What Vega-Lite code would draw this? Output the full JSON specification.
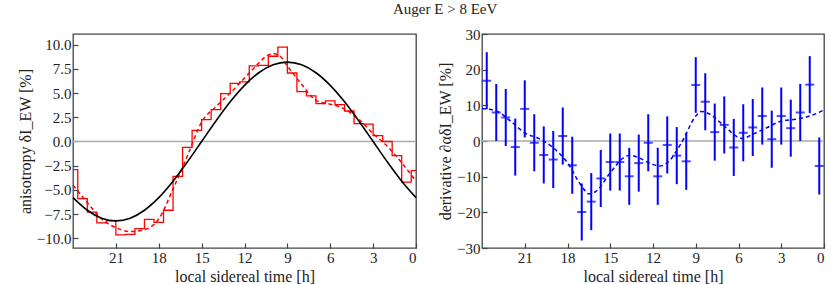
{
  "$schema": "https://vega.github.io/schema/vega-lite/v6.json",
  "padding": {"left": 16, "top": 2, "right": 2, "bottom": 0},
  "title": {"text": "Auger E > 8 EeV", "font": "Liberation Serif", "fontSize": 15, "fontWeight": "normal", "color": "#222", "anchor": "middle", "offset": 9, "dx": 23},
  "bounds": "flush",
  "spacing": 66,
  "datasets": {
    "step": [
      {"t": 0, "v": -3.0}, {"t": 0.333, "v": -4.2}, {"t": 1, "v": -1.45}, {"t": 1.667, "v": 0.0},
      {"t": 2.333, "v": 0.6}, {"t": 3, "v": 1.8}, {"t": 3.667, "v": 1.85}, {"t": 4.333, "v": 3.15},
      {"t": 5, "v": 3.8}, {"t": 5.667, "v": 4.2}, {"t": 6.333, "v": 3.9}, {"t": 7, "v": 4.7},
      {"t": 7.667, "v": 5.15}, {"t": 8.333, "v": 7.07}, {"t": 9, "v": 9.75}, {"t": 9.667, "v": 8.8},
      {"t": 10.333, "v": 7.85}, {"t": 11, "v": 7.8}, {"t": 11.667, "v": 6.15}, {"t": 12.333, "v": 6.0},
      {"t": 13, "v": 4.95}, {"t": 13.667, "v": 3.28}, {"t": 14.333, "v": 2.25}, {"t": 15, "v": 1.15},
      {"t": 15.667, "v": -0.6}, {"t": 16.333, "v": -3.6}, {"t": 17, "v": -7.1}, {"t": 17.667, "v": -8.35},
      {"t": 18.333, "v": -8.05}, {"t": 19, "v": -9.0}, {"t": 19.667, "v": -9.6}, {"t": 20.333, "v": -9.65},
      {"t": 21, "v": -8.2}, {"t": 21.667, "v": -8.4}, {"t": 22.333, "v": -7.3}, {"t": 23, "v": -5.9},
      {"t": 23.667, "v": -2.9}, {"t": 24, "v": -2.9}
    ],
    "smooth": [
      {"t": 0, "v": -4.1}, {"t": 1, "v": -2.2}, {"t": 2, "v": -0.5}, {"t": 3, "v": 0.8},
      {"t": 4, "v": 2.3}, {"t": 5, "v": 3.35}, {"t": 6, "v": 3.85}, {"t": 7, "v": 4.25},
      {"t": 8, "v": 5.9}, {"t": 9, "v": 7.8}, {"t": 9.5, "v": 8.8}, {"t": 10, "v": 9.05},
      {"t": 10.5, "v": 8.8}, {"t": 11, "v": 8.1}, {"t": 12, "v": 6.55}, {"t": 13, "v": 5.0},
      {"t": 14, "v": 3.6}, {"t": 15, "v": 2.0}, {"t": 16, "v": -1.5}, {"t": 17, "v": -4.9},
      {"t": 18, "v": -8.0}, {"t": 19, "v": -9.1}, {"t": 20, "v": -9.3}, {"t": 21, "v": -8.9},
      {"t": 22, "v": -8.0}, {"t": 23, "v": -6.3}, {"t": 24, "v": -4.5}
    ],
    "dipole": [
      {"t": 0, "v": -5.8}, {"t": 1, "v": -4.1}, {"t": 2, "v": -2.12}, {"t": 3, "v": 0},
      {"t": 4, "v": 2.12}, {"t": 5, "v": 4.1}, {"t": 6, "v": 5.8}, {"t": 7, "v": 7.1},
      {"t": 8, "v": 7.92}, {"t": 9, "v": 8.2}, {"t": 10, "v": 7.92}, {"t": 11, "v": 7.1},
      {"t": 12, "v": 5.8}, {"t": 13, "v": 4.1}, {"t": 14, "v": 2.12}, {"t": 15, "v": 0},
      {"t": 16, "v": -2.12}, {"t": 17, "v": -4.1}, {"t": 18, "v": -5.8}, {"t": 19, "v": -7.1},
      {"t": 20, "v": -7.92}, {"t": 21, "v": -8.2}, {"t": 22, "v": -7.92}, {"t": 23, "v": -7.1},
      {"t": 24, "v": -5.8}
    ],
    "deriv": [
      {"t": 23.667, "v": 16.9, "err": 8}, {"t": 23.0, "v": 8.0, "err": 8}, {"t": 22.333, "v": 6.6, "err": 8},
      {"t": 21.667, "v": -1.7, "err": 8}, {"t": 21.0, "v": 9.0, "err": 8}, {"t": 20.333, "v": -0.5, "err": 8},
      {"t": 19.667, "v": -3.9, "err": 8}, {"t": 19.0, "v": -5.2, "err": 8}, {"t": 18.333, "v": 1.4, "err": 8},
      {"t": 17.667, "v": -6.8, "err": 8}, {"t": 17.0, "v": -19.9, "err": 8}, {"t": 16.333, "v": -17.0, "err": 8},
      {"t": 15.667, "v": -10.5, "err": 8}, {"t": 15.0, "v": -5.9, "err": 8}, {"t": 14.333, "v": -5.9, "err": 8},
      {"t": 13.667, "v": -9.9, "err": 8}, {"t": 13.0, "v": -6.2, "err": 8}, {"t": 12.333, "v": -0.5, "err": 8},
      {"t": 11.667, "v": -9.9, "err": 8}, {"t": 11.0, "v": -1.1, "err": 8}, {"t": 10.333, "v": -4.1, "err": 8},
      {"t": 9.667, "v": -5.7, "err": 8}, {"t": 9.0, "v": 15.7, "err": 7.8}, {"t": 8.333, "v": 11.0, "err": 8},
      {"t": 7.667, "v": 2.5, "err": 8}, {"t": 7.0, "v": 4.5, "err": 8}, {"t": 6.333, "v": -1.8, "err": 8},
      {"t": 5.667, "v": 2.3, "err": 8}, {"t": 5.0, "v": 3.8, "err": 8}, {"t": 4.333, "v": 7.0, "err": 8},
      {"t": 3.667, "v": 0.5, "err": 8}, {"t": 3.0, "v": 7.0, "err": 8}, {"t": 2.333, "v": 3.6, "err": 8},
      {"t": 1.667, "v": 8.0, "err": 8}, {"t": 1.0, "v": 15.8, "err": 8}, {"t": 0.333, "v": -7.0, "err": 8}
    ],
    "dfit": [
      {"t": 0, "v": 8.7}, {"t": 1, "v": 7.0}, {"t": 2, "v": 6.1}, {"t": 3, "v": 5.6},
      {"t": 4, "v": 3.75}, {"t": 5, "v": 1.9}, {"t": 5.7, "v": 0.7}, {"t": 6, "v": 1.0},
      {"t": 7, "v": 4.2}, {"t": 8, "v": 7.5}, {"t": 8.6, "v": 8.3}, {"t": 9, "v": 7.0},
      {"t": 10, "v": -0.5}, {"t": 11, "v": -6.1}, {"t": 11.5, "v": -7.0}, {"t": 12, "v": -6.6},
      {"t": 13, "v": -4.7}, {"t": 13.6, "v": -4.0}, {"t": 14, "v": -4.5}, {"t": 15, "v": -8.9},
      {"t": 16, "v": -14.1}, {"t": 16.5, "v": -14.8}, {"t": 17, "v": -12.7}, {"t": 18, "v": -6.1},
      {"t": 19, "v": -1.9}, {"t": 20, "v": 0.66}, {"t": 21, "v": 2.3}, {"t": 22, "v": 5.6},
      {"t": 23, "v": 8.4}, {"t": 24, "v": 9.1}
    ]
  },
  "hconcat": [
    {
      "width": 343,
      "height": 214,
      "layer": [
        {
          "data": {"values": [{}]},
          "mark": {"type": "rule", "color": "#aaaaaa", "strokeWidth": 1.5},
          "encoding": {"y": {"datum": 0, "type": "quantitative", "scale": {"domain": [-11, 11.1], "nice": false, "zero": false},
                  "axis": {"values": [-10, -7.5, -5, -2.5, 0, 2.5, 5, 7.5, 10], "format": ".1f", "title": "anisotropy δI_EW [%]", "labelOverlap": false}}}
        },
        {
          "data": {"name": "step"},
          "mark": {"type": "line", "interpolate": "step-before", "color": "#ff0000", "strokeWidth": 1.3},
          "encoding": {
            "x": {"field": "t", "type": "quantitative", "scale": {"domain": [0, 24], "reverse": true, "nice": false, "zero": false},
                  "axis": {"values": [0, 3, 6, 9, 12, 15, 18, 21], "title": "local sidereal time [h]", "format": "d", "labelOverlap": false}},
            "y": {"field": "v", "type": "quantitative",
                  "axis": {"values": [-10, -7.5, -5, -2.5, 0, 2.5, 5, 7.5, 10], "format": ".1f", "title": "anisotropy δI_EW [%]", "labelOverlap": false}}
          }
        },
        {
          "data": {"name": "smooth"},
          "mark": {"type": "line", "interpolate": "monotone", "color": "#ff0000", "strokeWidth": 1.5, "strokeDash": [4, 3]},
          "encoding": {
            "x": {"field": "t", "type": "quantitative", "axis": {"values": [0, 3, 6, 9, 12, 15, 18, 21], "title": "local sidereal time [h]", "format": "d", "labelOverlap": false}},
            "y": {"field": "v", "type": "quantitative", "axis": {"values": [-10, -7.5, -5, -2.5, 0, 2.5, 5, 7.5, 10], "format": ".1f", "title": "anisotropy δI_EW [%]", "labelOverlap": false}}
          }
        },
        {
          "data": {"name": "dipole"},
          "mark": {"type": "line", "interpolate": "monotone", "color": "#000000", "strokeWidth": 1.6},
          "encoding": {
            "x": {"field": "t", "type": "quantitative", "axis": {"values": [0, 3, 6, 9, 12, 15, 18, 21], "title": "local sidereal time [h]", "format": "d", "labelOverlap": false}},
            "y": {"field": "v", "type": "quantitative", "axis": {"values": [-10, -7.5, -5, -2.5, 0, 2.5, 5, 7.5, 10], "format": ".1f", "title": "anisotropy δI_EW [%]", "labelOverlap": false}}
          }
        }
      ]
    },
    {
      "width": 342,
      "height": 214,
      "layer": [
        {
          "data": {"values": [{}]},
          "mark": {"type": "rule", "color": "#aaaaaa", "strokeWidth": 1.5},
          "encoding": {"y": {"datum": 0, "type": "quantitative", "scale": {"domain": [-30, 30], "nice": false, "zero": false},
                  "axis": {"values": [-30, -20, -10, 0, 10, 20, 30], "format": "d", "title": "derivative ∂αδI_EW [%]", "labelOverlap": false}}}
        },
        {
          "data": {"name": "dfit"},
          "mark": {"type": "line", "interpolate": "monotone", "color": "#0000ff", "strokeWidth": 1.5, "strokeDash": [4, 3]},
          "encoding": {
            "x": {"field": "t", "type": "quantitative", "scale": {"domain": [0, 24], "reverse": true, "nice": false, "zero": false},
                  "axis": {"values": [0, 3, 6, 9, 12, 15, 18, 21], "title": "local sidereal time [h]", "format": "d", "labelOverlap": false}},
            "y": {"field": "v", "type": "quantitative",
                  "axis": {"values": [-30, -20, -10, 0, 10, 20, 30], "format": "d", "title": "derivative ∂αδI_EW [%]", "labelOverlap": false}}
          }
        },
        {
          "data": {"name": "deriv"},
          "mark": {"type": "errorbar", "ticks": false, "thickness": 2, "color": "#0000ff"},
          "encoding": {
            "x": {"field": "t", "type": "quantitative", "axis": {"values": [0, 3, 6, 9, 12, 15, 18, 21], "title": "local sidereal time [h]", "format": "d", "labelOverlap": false}},
            "y": {"field": "v", "type": "quantitative", "axis": {"values": [-30, -20, -10, 0, 10, 20, 30], "format": "d", "title": "derivative ∂αδI_EW [%]", "labelOverlap": false}},
            "yError": {"field": "err"}
          }
        },
        {
          "data": {"name": "deriv"},
          "mark": {"type": "tick", "orient": "horizontal", "size": 9, "thickness": 2, "color": "#0000ff"},
          "encoding": {
            "x": {"field": "t", "type": "quantitative", "axis": {"values": [0, 3, 6, 9, 12, 15, 18, 21], "title": "local sidereal time [h]", "format": "d", "labelOverlap": false}},
            "y": {"field": "v", "type": "quantitative", "axis": {"values": [-30, -20, -10, 0, 10, 20, 30], "format": "d", "title": "derivative ∂αδI_EW [%]", "labelOverlap": false}}
          }
        }
      ]
    }
  ],
  "config": {
    "view": {"stroke": "#444444", "strokeWidth": 1.3},
    "axis": {
      "grid": false, "domain": false, "labelOverlap": false,
      "tickColor": "#444444", "tickSize": -5, "tickWidth": 1.2,
      "labelFont": "Liberation Serif", "labelFontSize": 15, "labelColor": "#222222", "labelPadding": 7,
      "titleFont": "Liberation Serif", "titleFontSize": 16, "titleFontWeight": "normal", "titleColor": "#222222",
      "titlePadding": 3
    }
  }
}
